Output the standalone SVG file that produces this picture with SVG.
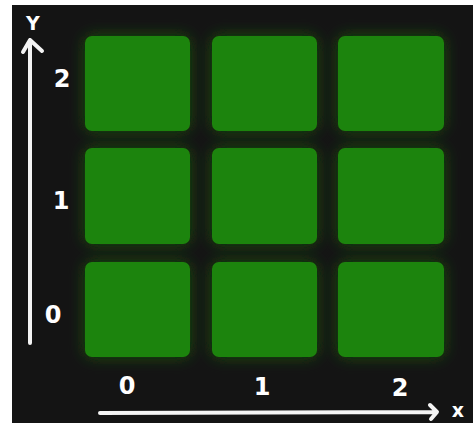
<svg xmlns="http://www.w3.org/2000/svg" width="473" height="423" viewBox="0 0 473 423">
<style>
.cell{fill:#1c840a;filter:url(#glow)}
.lbl{fill:#fff;font-family:"DejaVu Sans",sans-serif;font-weight:bold;font-size:24px;text-anchor:middle;dominant-baseline:central}
.ax{stroke:#f4f4f4;stroke-width:4;fill:none;stroke-linecap:round;stroke-linejoin:round}
</style>
<defs>
<filter id="glow" x="-25%" y="-25%" width="150%" height="150%">
<feGaussianBlur in="SourceGraphic" stdDeviation="8" result="b"/>
<feComponentTransfer in="b" result="bb"><feFuncA type="linear" slope="0.55"/></feComponentTransfer>
<feMerge><feMergeNode in="bb"/><feMergeNode in="SourceGraphic"/></feMerge>
</filter>
</defs>
<rect width="473" height="423" fill="#fff"/>
<rect x="12" y="5" width="461" height="418" fill="#141414"/>
<g id="cells">
<g id="c00"><rect class="cell" x="85" y="262" width="105" height="95" rx="7"/></g>
<g id="c10"><rect class="cell" x="212" y="262" width="105" height="95" rx="7"/></g>
<g id="c20"><rect class="cell" x="338" y="262" width="106" height="95" rx="7"/></g>
<g id="c01"><rect class="cell" x="85" y="148" width="105" height="96" rx="7"/></g>
<g id="c11"><rect class="cell" x="212" y="148" width="105" height="96" rx="7"/></g>
<g id="c21"><rect class="cell" x="338" y="148" width="106" height="96" rx="7"/></g>
<g id="c02"><rect class="cell" x="85" y="36" width="105" height="95" rx="7"/></g>
<g id="c12"><rect class="cell" x="212" y="36" width="105" height="95" rx="7"/></g>
<g id="c22"><rect class="cell" x="338" y="36" width="106" height="95" rx="7"/></g>
</g>
<g id="connectors">
<path class="ax" d="M30 343 L30 40 M23 52 L30 40 L42 51"/>
<path class="ax" d="M100 413 L436 412 M430 405 L437 412 L431 419"/>
</g>
<g id="labels">
<text class="lbl" x="33" y="23" style="font-size:19px">Y</text>
<text class="lbl" x="62" y="79">2</text>
<text class="lbl" x="61" y="201">1</text>
<text class="lbl" x="53" y="315">0</text>
<text class="lbl" x="127" y="386">0</text>
<text class="lbl" x="262" y="387">1</text>
<text class="lbl" x="400" y="388">2</text>
<text class="lbl" x="458" y="410" style="font-size:19px">x</text>
</g>
</svg>
